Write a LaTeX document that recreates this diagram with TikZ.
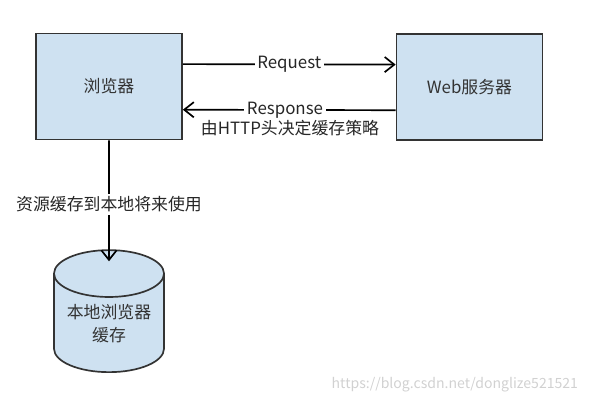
\documentclass[tikz,border=0pt]{standalone}
\usepackage{fontspec}
\setmainfont{Noto Sans CJK SC}
\usetikzlibrary{shapes.geometric,arrows.meta}
\definecolor{boxfill}{RGB}{206,225,241}
\definecolor{boxline}{RGB}{51,51,51}
\tikzset{
  pane/.style={draw=boxline,line width=1.2pt,fill=boxfill,minimum width=3.65cm,minimum height=2.65cm,font=\large,text=boxline},
  store/.style={cylinder,shape border rotate=90,aspect=0.5,draw=boxline,line width=1.2pt,fill=boxfill,minimum width=2.75cm,minimum height=3.05cm,font=\large,text=boxline,align=center},
  flow/.style={line width=1.2pt,-{Straight Barb[length=2.4mm,width=3.8mm,line width=1.2pt]}},
  tag/.style={fill=white,inner sep=2pt,font=\large,text=black!85}
}
\begin{document}
\begin{tikzpicture}[x=0.025cm,y=-0.025cm]
\useasboundingbox (0,0) rectangle (590,404);
\node[pane] (browser) at (109,86.5) {浏览器};
\node[pane] (server) at (469.5,87) {Web服务器};
\node[store] (cache) at (109,328) {\raisebox{7pt}{\shortstack{本地浏览器\\[2pt]缓存}}};

\draw[flow] ([yshift=0.56cm]browser.east) -- node[tag] (req) {Request} ([yshift=0.56cm]server.west);
\draw[flow] ([yshift=-0.58cm]server.west) -- node[tag,pos=0.52] (resp) {Response} ([yshift=-0.58cm]browser.east);
\node[font=\large,text=black!85] (rule) at (290,128) {由HTTP头决定缓存策略};

\draw[flow] (browser.south) -- node[tag,pos=0.53] (keep) {资源缓存到本地将来使用} ([yshift=-0.3cm]cache.north);

\node[text=black!18,font=\normalsize,anchor=east] (mark) at (583,385) {https://blog.csdn.net/donglize521521};
\end{tikzpicture}
\end{document}
